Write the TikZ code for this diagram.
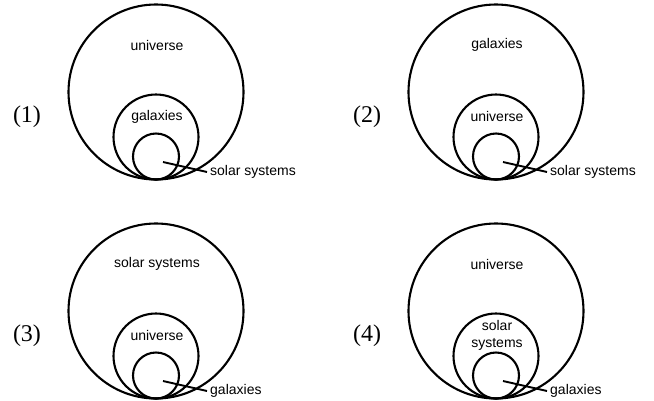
\documentclass[tikz,border=0pt]{standalone}
\usepackage{fontspec}
\setmainfont{Liberation Serif}
\setsansfont{Liberation Sans}
\usetikzlibrary{positioning}

\begin{document}
\begin{tikzpicture}[x=1pt, y=-1pt,
  ring/.style={circle, draw, line width=2.1pt, inner sep=0pt, outer sep=0pt},
  word/.style={font=\sffamily\fontsize{14}{17}\selectfont, align=center, inner sep=0pt},
  tag/.style={font=\sffamily\fontsize{14}{17}\selectfont, inner sep=3pt},
  num/.style={font=\fontsize{24}{26}\selectfont}]
  \useasboundingbox (0,0) rectangle (654,400);
  \foreach \px/\py/\n/\outer/\middle/\inner in {
      0/0/1/universe/galaxies/solar systems,
      340/0/2/galaxies/universe/solar systems,
      0/219/3/solar systems/universe/galaxies,
      340/219/4/universe/{solar\\systems}/galaxies}{
    % three circles touching at the bottom
    \node[ring, minimum size=175pt] (big\n) at (\px+156,\py+92) {};
    \node[ring, minimum size=85pt] (mid\n) at (\px+156,\py+137) {};
    \node[ring, minimum size=46pt] (small\n) at (\px+156,\py+156.5) {};
    \node[word] (outer\n) at (\px+157,\py+45) {\outer};
    \node[word] (middle\n) at (\px+157,\py+116.5) {\middle};
    \node[num] (no\n) at (\px+27,\py+117) {(\n)};
    % pointer to the small circle
    \coordinate (tip\n) at (\px+163,\py+162);
    \node[tag, anchor=west] (lab\n) at (\px+207,\py+172) {\inner};
    \draw[line width=1.9pt] (tip\n) -- (lab\n.west);
  }
\end{tikzpicture}
\end{document}
